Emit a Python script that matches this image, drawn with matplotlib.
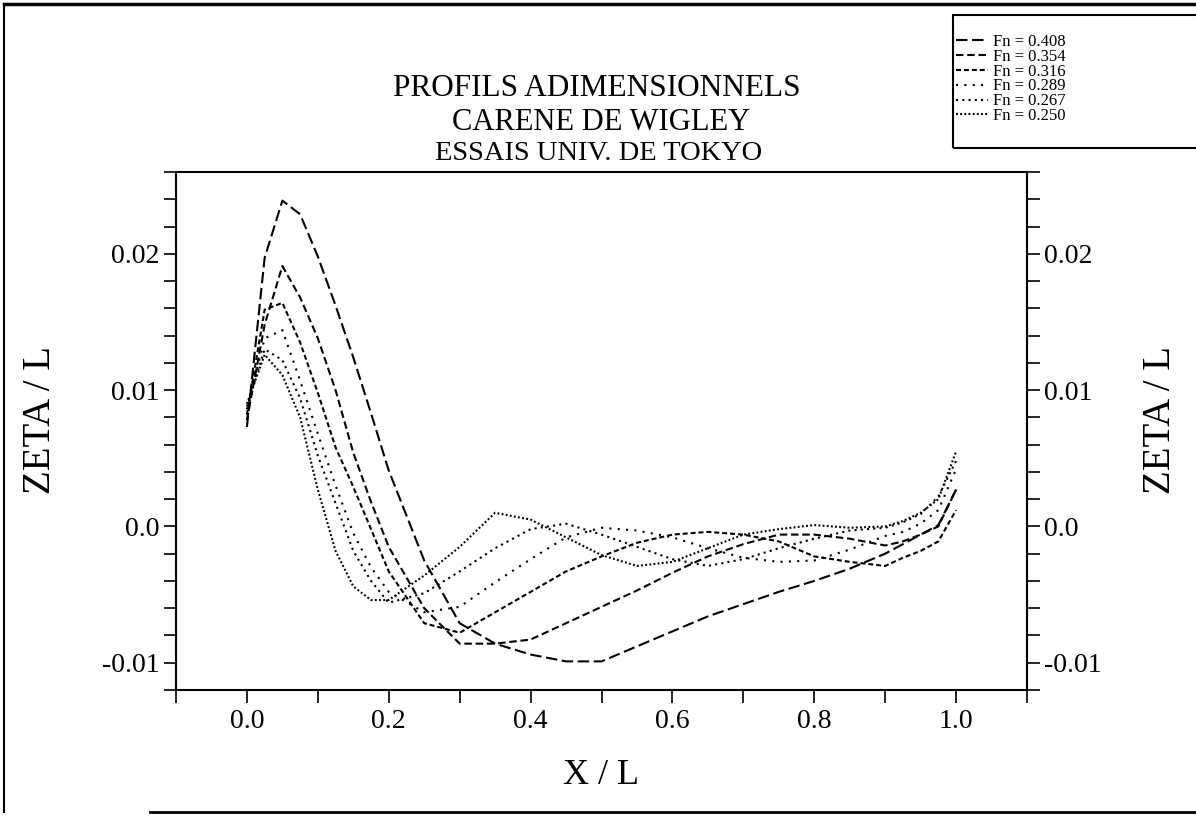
import matplotlib
matplotlib.use("Agg")
import matplotlib.pyplot as plt
from matplotlib.patches import Rectangle
from matplotlib.lines import Line2D

# ---------------- data ----------------
x_over_L = [0.0, 0.025, 0.05, 0.075, 0.1, 0.125, 0.15, 0.175, 0.2, 0.25, 0.3, 0.35,
            0.4, 0.45, 0.5, 0.55, 0.6, 0.65, 0.7, 0.75, 0.8, 0.85, 0.9, 0.925,
            0.95, 0.975, 1.0]

zeta_fn_0408 = [0.0073, 0.0197, 0.0239, 0.0229, 0.0198, 0.0162, 0.0124, 0.0083, 0.0041,
                -0.0025, -0.0071, -0.0086, -0.0094, -0.0099, -0.0099, -0.0088, -0.0077,
                -0.0066, -0.0057, -0.0048, -0.0040, -0.0031, -0.0020, -0.0013, -0.0006,
                0.0001, 0.0027]
zeta_fn_0354 = [0.0078, 0.0148, 0.0191, 0.0168, 0.0138, 0.0100, 0.0054, 0.0018, -0.0015,
                -0.0060, -0.0086, -0.0086, -0.0083, -0.0071, -0.0059, -0.0047, -0.0034,
                -0.0022, -0.0013, -0.0006, -0.0006, -0.0009, -0.0014, -0.0011, -0.0006,
                0.0000, 0.0027]
zeta_fn_0316 = [0.0082, 0.0159, 0.0164, 0.0135, 0.0098, 0.0058, 0.0029, -0.0002, -0.0033,
                -0.0071, -0.0078, -0.0063, -0.0048, -0.0033, -0.0022, -0.0012, -0.0006,
                -0.0004, -0.0006, -0.0011, -0.0022, -0.0026, -0.0029, -0.0023, -0.0018,
                -0.0011, 0.0012]
zeta_fn_0289 = [0.0086, 0.0138, 0.0144, 0.0107, 0.0068, 0.0030, -0.0005, -0.0030, -0.0048,
                -0.0063, -0.0059, -0.0041, -0.0024, -0.0008, -0.0001, -0.0003, -0.0008,
                -0.0016, -0.0023, -0.0026, -0.0025, -0.0017, -0.0007, -0.0004, 0.0002,
                0.0012, 0.0042]
zeta_fn_0267 = [0.0088, 0.0130, 0.0122, 0.0094, 0.0052, 0.0017, -0.0018, -0.0040, -0.0056,
                -0.0049, -0.0033, -0.0016, -0.0002, 0.0002, -0.0006, -0.0015, -0.0024,
                -0.0029, -0.0024, -0.0016, -0.0009, -0.0003, -0.0001, 0.0003, 0.0009,
                0.0022, 0.0048]
zeta_fn_0250 = [0.0090, 0.0126, 0.0111, 0.0080, 0.0027, -0.0018, -0.0044, -0.0054, -0.0054,
                -0.0036, -0.0015, 0.0010, 0.0005, -0.0008, -0.0021, -0.0029, -0.0026,
                -0.0016, -0.0006, -0.0002, 0.0001, -0.0001, 0.0000, 0.0004, 0.0010,
                0.0020, 0.0055]

series_labels = ["Fn = 0.408", "Fn = 0.354", "Fn = 0.316",
                 "Fn = 0.289", "Fn = 0.267", "Fn = 0.250"]

x_major_ticks = [0.0, 0.2, 0.4, 0.6, 0.8, 1.0]
x_tick_labels = ["0.0", "0.2", "0.4", "0.6", "0.8", "1.0"]
x_minor_ticks = [-0.1, 0.1, 0.3, 0.5, 0.7, 0.9, 1.1]
y_major_ticks = [-0.01, 0.0, 0.01, 0.02]
y_tick_labels = ["-0.01", "0.0", "0.01", "0.02"]
y_minor_ticks = [-0.012 + 0.002 * i for i in range(20)]

title_lines = ["PROFILS ADIMENSIONNELS", "CARENE DE WIGLEY", "ESSAIS UNIV. DE TOKYO"]

# ---------------- styling ----------------
plt.rcParams['font.family'] = ['Liberation Serif', 'DejaVu Serif']
W, H = 1196, 817
fig = plt.figure(figsize=(W / 100, H / 100), dpi=100)
fig.patch.set_facecolor("white")

ax = fig.add_axes([176 / W, 1 - 690 / H, (1027 - 176) / W, (690 - 172) / H])

series = [zeta_fn_0408, zeta_fn_0354, zeta_fn_0316, zeta_fn_0289, zeta_fn_0267, zeta_fn_0250]
dash_styles = [(0, (5.5, 2.2)), (0, (3.6, 1.8)), (0, (2.4, 1.4)),
               (0, (1.0, 3.0)), (0, (1.0, 2.0)), (0, (0.9, 1.1))]
handles = []
for ys, ls, lab in zip(series, dash_styles, series_labels):
    ln, = ax.plot(x_over_L, ys, color="black", lw=1.5, linestyle=ls, label=lab)
    handles.append(ln)

ax.set_xlim(-0.1, 1.1)
ax.set_ylim(-0.012, 0.026)

ax.set_xticks(x_major_ticks)
ax.set_xticklabels(x_tick_labels)
ax.set_xticks(x_minor_ticks, minor=True)
ax.set_yticks(y_major_ticks)
ax.set_yticklabels(y_tick_labels)
ax.set_yticks(y_minor_ticks, minor=True)

ax.tick_params(axis='x', which='both', direction='out', length=9, width=1.2,
               top=False, bottom=True, labelsize=20, pad=5)
ax.tick_params(axis='y', which='both', direction='out', length=9, width=1.2,
               left=True, right=True, labelleft=True, labelright=True,
               labelsize=20, pad=3)
for sp in ax.spines.values():
    sp.set_linewidth(1.5)
    sp.set_color("black")

# axis labels
fig.text(601 / W, 1 - 776 / H, "X / L", ha="center", va="center", fontsize=26)
fig.text(41 / W, 1 - 420 / H, "ZETA / L", rotation=90, ha="center", va="center",
         fontsize=28)
fig.text(1160 / W, 1 - 420 / H, "ZETA / L", rotation=90, ha="center", va="center",
         fontsize=28)

# titles
fig.text(597 / W, 1 - 88 / H, title_lines[0], ha="center", va="center", fontsize=22.5)
fig.text(601 / W, 1 - 122 / H, title_lines[1], ha="center", va="center", fontsize=22)
fig.text(599 / W, 1 - 153 / H, title_lines[2], ha="center", va="center", fontsize=20.5)

# legend box
fig.patches.append(Rectangle((953 / W, 1 - 148 / H), (W + 10 - 953) / W, (148 - 15) / H,
                             transform=fig.transFigure, fill=False, lw=1.5,
                             edgecolor="black", clip_on=False))
leg = fig.legend(handles=handles, labels=series_labels, loc="upper left",
                 bbox_to_anchor=(956 / W, 1 - 34 / H), frameon=False,
                 handlelength=1.9, handletextpad=0.3, borderpad=0, borderaxespad=0,
                 labelspacing=-0.07, fontsize=12)

# page border (scan frame)
fig.add_artist(Line2D([4 / W, 1.0], [1 - 4 / H, 1 - 4 / H], transform=fig.transFigure,
                      color="black", lw=2.5))
fig.add_artist(Line2D([4 / W, 4 / W], [1 - 4 / H, 1 - 812 / H], transform=fig.transFigure,
                      color="black", lw=1.5))
fig.add_artist(Line2D([150 / W, 1.0], [1 - 812 / H, 1 - 812 / H], transform=fig.transFigure,
                      color="black", lw=2.0))

fig.savefig("out.png", dpi=100, facecolor="white")
